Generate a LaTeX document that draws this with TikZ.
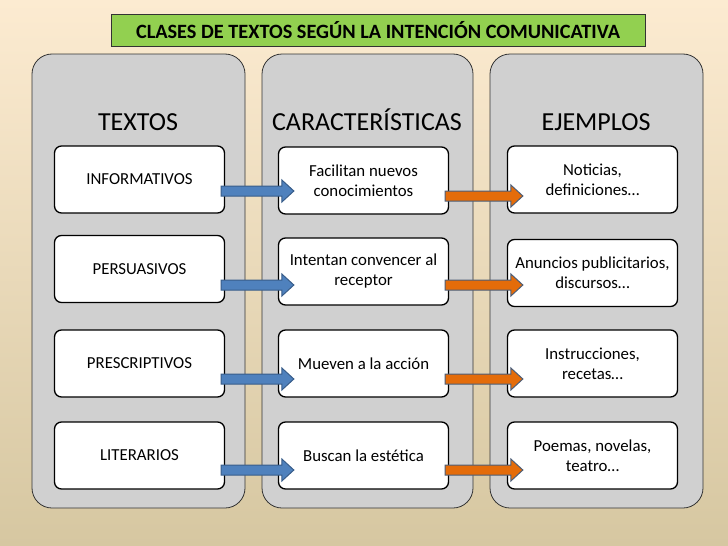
\documentclass[tikz,border=0pt]{standalone}
\usepackage{fontspec}
\setmainfont{Carlito}
\usetikzlibrary{calc,positioning}
\usepackage{xcolor}
\definecolor{bgtop}{HTML}{FCEBD1}
\definecolor{bgbot}{HTML}{D6C7A1}
\definecolor{panelgray}{HTML}{D0D0D0}
\definecolor{titlegreen}{HTML}{92D050}
\definecolor{arrowblue}{HTML}{4F81BD}
\definecolor{arrowblueline}{HTML}{385D8A}
\definecolor{arroworange}{HTML}{E46C0A}
\definecolor{arroworangeline}{HTML}{4C5E78}

% fat arrow between two boxes: style, from, to, y offset
\newcommand{\fatarrow}[4]{%
\path[#1] let \p1=($(#2.east)+(-4,#4)$), \p2=($(#3.west)+(16,#4)$) in
 (\x1,\y1+5pt) -- (\x2-12pt,\y1+5pt) -- (\x2-12pt,\y1+11pt) -- (\x2,\y1)
 -- (\x2-12pt,\y1-11pt) -- (\x2-12pt,\y1-5pt) -- (\x1,\y1-5pt) -- cycle;}

\begin{document}
\begin{tikzpicture}[x=1pt,y=-1pt]
\tikzstyle{panel}=[draw=black!80, fill=panelgray, rounded corners=20pt, line width=0.8pt]
\tikzstyle{box}=[draw=black, fill=white, rounded corners=7pt, line width=1.3pt,
  minimum width=170pt, minimum height=67pt, align=center, inner sep=2pt,
  font=\fontsize{16.8}{20}\selectfont]
\tikzstyle{header}=[anchor=base, font=\fontsize{26}{30}\selectfont]
\tikzstyle{bluearrow}=[fill=arrowblue, draw=arrowblueline, line width=1pt]
\tikzstyle{orangearrow}=[fill=arroworange, draw=arroworangeline, line width=1pt]
\useasboundingbox (0,0) rectangle (728,546);
\fill[top color=bgtop, bottom color=bgbot] (0,0) rectangle (728,546);

\node[draw=black!80, fill=titlegreen, line width=1pt, minimum width=534pt, minimum height=32pt,
  font=\bfseries\fontsize{20.3}{24}\selectfont] (title) at (378,30) {CLASES DE TEXTOS SEGÚN LA INTENCIÓN COMUNICATIVA};

\draw[panel] (32,54) rectangle (245,508);
\draw[panel] (262,54) rectangle (473,508);
\draw[panel] (490,54) rectangle (703,508);

\node[header] (htextos) at (138,130) {TEXTOS};
\node[header] (hcarac) at (367,130) {CARACTERÍSTICAS};
\node[header] (hejemplos) at (596,130) {EJEMPLOS};

\node[box] (l1) at (139.5,179.5) {INFORMATIVOS};
\node[box] (l2) at (139.5,269) {PERSUASIVOS};
\node[box] (l3) at (139.5,363.5) {PRESCRIPTIVOS};
\node[box] (l4) at (139.5,455.5) {LITERARIOS};

\node[box] (c1) at (363.5,180.5) {Facilitan nuevos\\conocimientos};
\node[box] (c2) at (363.5,271.5) {Intentan convencer al\\receptor};
\node[box] (c3) at (363.5,363.5) {Mueven a la acción};
\node[box] (c4) at (363.5,455.5) {Buscan la estética};

\node[box] (e1) at (592.5,179.5) {Noticias,\\definiciones…};
\node[box] (e2) at (592.5,273) {Anuncios publicitarios,\\discursos…};
\node[box] (e3) at (592.5,363.5) {Instrucciones,\\recetas…};
\node[box] (e4) at (592.5,455.5) {Poemas, novelas,\\teatro…};

\fatarrow{bluearrow}{l1}{c1}{11.5}
\fatarrow{bluearrow}{l2}{c2}{16}
\fatarrow{bluearrow}{l3}{c3}{15.5}
\fatarrow{bluearrow}{l4}{c4}{14.5}
\fatarrow{orangearrow}{c1}{e1}{15.5}
\fatarrow{orangearrow}{c2}{e2}{13.5}
\fatarrow{orangearrow}{c3}{e3}{15.5}
\fatarrow{orangearrow}{c4}{e4}{14.5}
\end{tikzpicture}
\end{document}
